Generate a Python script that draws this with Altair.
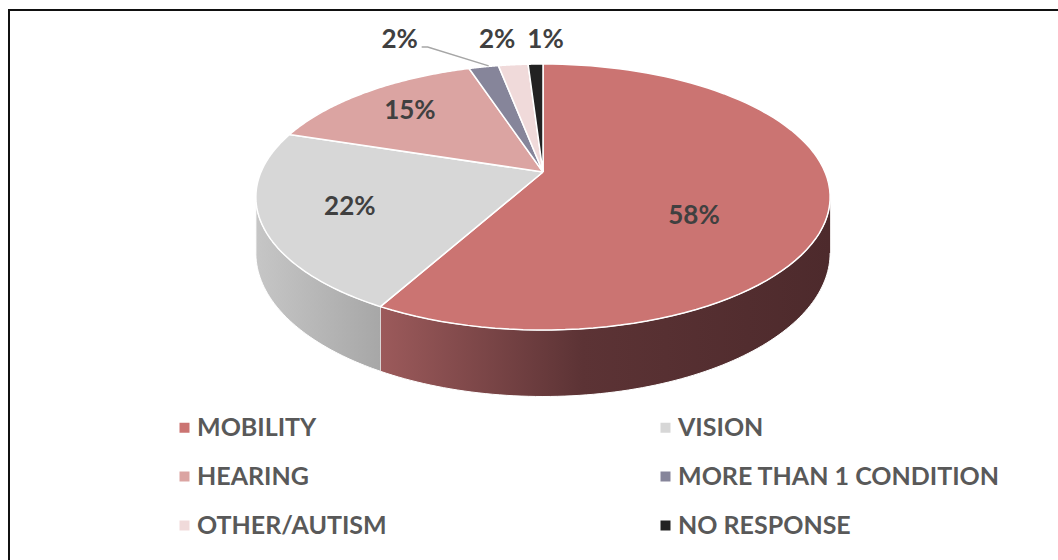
import altair as alt
import pandas as pd

# ---------------- data ----------------
categories = ["MOBILITY", "VISION", "HEARING", "MORE THAN 1 CONDITION",
              "OTHER/AUTISM", "NO RESPONSE"]
shares = [58, 22, 15, 2, 2, 1]
colors = ["#CB7472", "#D7D7D7", "#DBA4A2", "#86859A", "#F0DADA", "#222222"]

# ---------------- layout constants ----------------
W, H = 1058, 560
CX, PY = 543, 172            # projected centre of the pie top
A, B, C = 282, 128.3, 0.188  # perspective projection of the unit disc
DEPTH = 54
N = 90
SMALL_Y = 40
SMALL_DX = {"MORE THAN 1 CONDITION": -84, "OTHER/AUTISM": -16, "NO RESPONSE": 10}

df = pd.DataFrame({"cat": categories, "share": shares,
                   "order": list(range(len(categories)))})

xs = alt.X("px:Q", scale=alt.Scale(domain=[0, W], nice=False, zero=False), axis=None)
ys = alt.Y("py:Q", scale=alt.Scale(domain=[0, H], nice=False, zero=False, reverse=True), axis=None)

def px_of(t, rho="1"):
    return f"{CX} + {A}*({rho})*sin({t})/(1 + {C}*({rho})*cos({t}))"

def py_of(t, rho="1"):
    return f"{PY} - {B}*({rho})*cos({t})/(1 + {C}*({rho})*cos({t}))"

base = alt.Chart(df).transform_window(
    cum="sum(share)", sort=[alt.SortField("order")], frame=[None, 0]
).transform_calculate(start="datum.cum - datum.share")

# ---------------- frame (top and left edges) ----------------
one = alt.Chart(df).transform_filter("datum.order == 0")
frame_top = one.mark_rule(color="#111111", strokeWidth=2).encode(
    x=alt.value(8), x2=alt.value(1100), y=alt.value(10))
frame_left = one.mark_rule(color="#111111", strokeWidth=2).encode(
    x=alt.value(9), y=alt.value(9), y2=alt.value(700))

# ---------------- side walls (visible front part) ----------------
wall_base = base.transform_calculate(
    a0=f"max(2*PI*datum.start/100, acos(-{C}))",
    a1=f"min(2*PI*datum.cum/100, 2*PI - acos(-{C}))",
).transform_filter("datum.a1 > datum.a0").transform_calculate(
    k=f"sequence(0, {2 * N + 2})"
).transform_flatten(["k"]).transform_calculate(
    j=f"datum.k <= {N} ? datum.k : {2 * N + 1} - datum.k"
).transform_calculate(
    t=f"datum.a0 + (datum.a1 - datum.a0)*datum.j/{N}"
).transform_calculate(
    py0=py_of("datum.t"),
    px=px_of("datum.t"),
).transform_calculate(
    py=f"datum.k <= {N} ? datum.py0 : datum.py0 + {DEPTH}/(1 + {C}*cos(datum.t))",
)

wall_grad = {
    "MOBILITY": [("#9C5A5B", 0), ("#5C3335", 0.45), ("#4D2A2C", 1)],
    "VISION": [("#C6C6C6", 0), ("#A7A7A7", 1)],
}
walls = []
for cat, stops in wall_grad.items():
    walls.append(
        wall_base.transform_filter(alt.datum.cat == cat).mark_line(
            filled=True,
            fill=alt.Gradient(gradient="linear",
                              stops=[alt.GradientStop(color=c, offset=o) for c, o in stops],
                              x1=0, x2=1, y1=0, y2=0),
            stroke="white", strokeWidth=1, strokeJoin="round",
        ).encode(x=xs, y=ys, order="k:Q")
    )

# ---------------- top faces ----------------
top = base.transform_calculate(
    k=f"sequence(-1, {N + 2})"
).transform_flatten(["k"]).transform_calculate(
    t=f"2*PI*(datum.start + datum.share*clamp(datum.k, 0, {N})/{N})/100"
).transform_calculate(
    px=f"(datum.k < 0 || datum.k > {N}) ? {CX} : {px_of('datum.t')}",
    py=f"(datum.k < 0 || datum.k > {N}) ? {PY} : {py_of('datum.t')}",
).mark_line(
    filled=True, stroke="white", strokeWidth=1.5, strokeJoin="round"
).encode(
    x=xs, y=ys, order="k:Q",
    color=alt.Color("cat:N", sort=categories,
                    scale=alt.Scale(domain=categories, range=colors),
                    legend=alt.Legend(
                        title=None, orient="none", legendX=172, legendY=415,
                        direction="horizontal", columns=2,
                        symbolType="square", symbolSize=100,
                        symbolStrokeWidth=0, labelFont="Lato", labelFontSize=25,
                        labelFontWeight="bold", labelColor="#595959",
                        labelOffset=0, columnPadding=134, rowPadding=23,
                        gridAlign="all", labelLimit=0, padding=0)),
)

# ---------------- labels ----------------
# inner labels: point at radius rho along the mid angle; slices facing the
# front-right are centred on the top face plus their visible wall
inner = base.transform_filter("datum.share >= 5").transform_calculate(
    tm="2*PI*(datum.start + datum.share/2)/100",
    rho="0.8 - 0.45*datum.share/100",
).transform_calculate(
    px=px_of("datum.tm", "datum.rho"),
    py=py_of("datum.tm", "datum.rho") + f" + {DEPTH}*0.5*max(0, sin(datum.tm))",
    label="datum.share + '%'",
).mark_text(font="Lato", fontSize=26, fontWeight="bold", color="#404040").encode(
    x=xs, y=ys, text="label:N")

dx_expr = " : ".join(f"datum.cat === '{k}' ? {v}" for k, v in SMALL_DX.items()) + " : 0"
small_base = base.transform_filter("datum.share < 5").transform_calculate(
    t="2*PI*(datum.start + datum.share/2)/100"
).transform_calculate(
    ex=px_of("datum.t"), ey=py_of("datum.t"), dx=dx_expr,
).transform_calculate(
    lx="datum.ex + datum.dx", label="datum.share + '%'",
)
small = small_base.transform_calculate(px="datum.lx", py=f"{SMALL_Y}").mark_text(
    font="Lato", fontSize=26, fontWeight="bold", color="#404040"
).encode(x=xs, y=ys, text="label:N")

leader = small_base.transform_filter("datum.dx < -40").transform_calculate(
    k="sequence(0, 3)"
).transform_flatten(["k"]).transform_calculate(
    px="datum.k == 0 ? datum.lx + 22 : datum.k == 1 ? datum.lx + 28 : datum.ex + 5",
    py=f"datum.k == 2 ? datum.ey - 1 : {SMALL_Y + 7}",
).mark_line(color="#A6A6A6", strokeWidth=1.5).encode(x=xs, y=ys, order="k:Q")

chart = alt.layer(frame_top, frame_left, *walls, top, inner, small, leader).properties(
    width=W, height=H, autosize=alt.AutoSizeParams(type="none"), padding=0
).configure_view(strokeWidth=0)

chart.save("out.html", embed_options={"renderer": "svg", "actions": False})
